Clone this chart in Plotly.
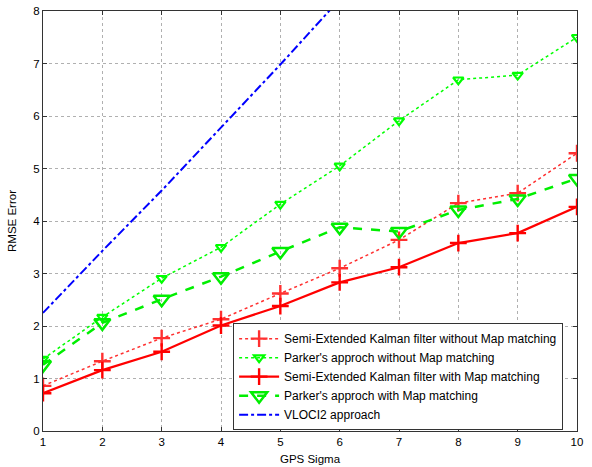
import plotly.graph_objects as go

x_sigma = [1, 2, 3, 4, 5, 6, 7, 8, 9, 10]
sekf_no_mm = [0.86, 1.33, 1.77, 2.13, 2.62, 3.10, 3.64, 4.34, 4.53, 5.29]
parker_no_mm = [1.37, 2.17, 2.91, 3.50, 4.32, 5.05, 5.91, 6.69, 6.78, 7.50]
sekf_mm = [0.72, 1.16, 1.51, 2.01, 2.38, 2.83, 3.12, 3.58, 3.77, 4.27]
parker_mm = [1.26, 2.06, 2.51, 2.94, 3.42, 3.88, 3.80, 4.21, 4.42, 4.81]
x_vloci = [1, 2, 3, 4, 5, 6]
vloci2 = [2.25, 3.43, 4.58, 5.79, 6.98, 8.22]

names = [
    "Semi-Extended Kalman filter without Map matching",
    "Parker's approch without Map matching",
    "Semi-Extended Kalman filter with Map matching",
    "Parker's approch with Map matching",
    "VLOCI2 approach",
]

fig = go.Figure()
fig.add_trace(go.Scatter(
    x=x_sigma, y=sekf_no_mm, name=names[0], mode="lines+markers",
    line=dict(color="#ff3030", width=1.5, dash="dot"),
    marker=dict(symbol="cross-thin-open", size=12, line=dict(color="#ff0000", width=2.4)),
))
fig.add_trace(go.Scatter(
    x=x_sigma, y=parker_no_mm, name=names[1], mode="lines+markers",
    line=dict(color="#00ff00", width=1.5, dash="dot"),
    marker=dict(symbol="triangle-down-open", size=9, color="#00ff00", line=dict(color="#00ff00", width=2.2)),
))
fig.add_trace(go.Scatter(
    x=x_sigma, y=sekf_mm, name=names[2], mode="lines+markers",
    line=dict(color="#ff0000", width=2.2),
    marker=dict(symbol="cross-thin-open", size=12, line=dict(color="#ff0000", width=2.4)),
))
fig.add_trace(go.Scatter(
    x=x_sigma, y=parker_mm, name=names[3], mode="lines+markers",
    line=dict(color="#00ee00", width=2.5, dash="dash"),
    marker=dict(symbol="triangle-down-open", size=14, color="#00ee00", line=dict(color="#00ee00", width=2.5)),
))
fig.add_trace(go.Scatter(
    x=x_vloci, y=vloci2, name=names[4], mode="lines",
    line=dict(color="#0000ff", width=2, dash="dashdot"),
))

axis_common = dict(
    showline=True, linecolor="#333333", linewidth=1, mirror="allticks",
    ticks="inside", ticklen=4, tickcolor="#333333",
    showgrid=True, gridcolor="#b0b0b0", griddash="dot", gridwidth=1,
    zeroline=False, automargin=False,
    tickfont=dict(family="Liberation Sans, Arial", size=11.5, color="black"),
)

fig.update_layout(
    width=592, height=467,
    margin=dict(l=43, r=15, t=11, b=36),
    paper_bgcolor="white", plot_bgcolor="white",
    font=dict(family="Liberation Sans, Arial", size=11.5, color="black"),
    xaxis=dict(range=[1, 10], tickvals=list(range(1, 11)),
               title=dict(text="GPS Sigma", standoff=8, font=dict(size=11.5)), **axis_common),
    yaxis=dict(range=[0, 8], tickvals=list(range(0, 9)),
               title=dict(text="RMSE Error", standoff=14, font=dict(size=11.5)), **axis_common),
    legend=dict(
        x=0.356, y=0.002, xanchor="left", yanchor="bottom",
        bgcolor="white", bordercolor="#333333", borderwidth=1,
        font=dict(size=12), tracegroupgap=0, itemwidth=40,
    ),
    showlegend=True,
)

fig.write_html("out.html", config={"displayModeBar": False},
               post_script="document.body.style.margin='0';")
